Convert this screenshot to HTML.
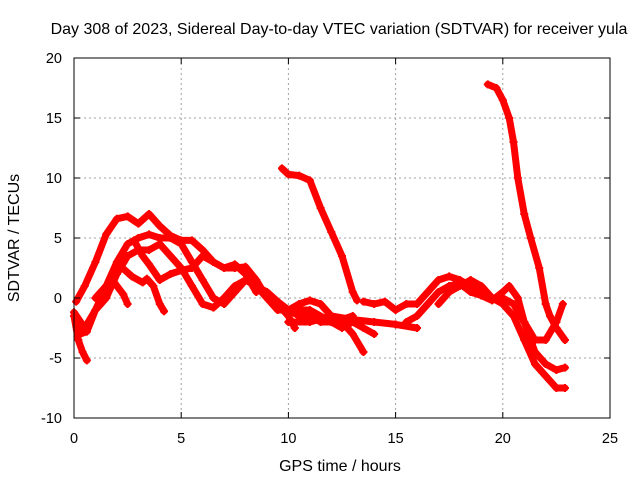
<!DOCTYPE html>
<html><head><meta charset="utf-8"><style>
body{margin:0;background:#fff;}
svg{display:block;font-family:"Liberation Sans",sans-serif;}
</style></head><body>
<svg id="chart" width="640" height="480" viewBox="0 0 640 480">
<rect width="640" height="480" fill="#fff"/>
<text x="339" y="34" font-size="16" text-anchor="middle">Day 308 of 2023, Sidereal Day-to-day VTEC variation (SDTVAR) for receiver yula</text>
<g id="grid"></g>
<g id="series"></g>
<rect x="74" y="58" width="536" height="360" fill="none" stroke="#000" stroke-width="1"/>
<g id="ticks"></g>
<text x="340" y="471" font-size="16" text-anchor="middle">GPS time / hours</text>
<text transform="translate(19,238) rotate(-90)" font-size="16" text-anchor="middle">SDTVAR / TECUs</text>
</svg>
<script>
const xTicks=[0,5,10,15,20,25];
const yTicks=[-10,-5,0,5,10,15,20];
const t1=[[0.1,-0.3],[0.5,1],[1,3],[1.5,5.3],[2,6.6],[2.5,6.8],[3,6.2],[3.5,7],[4,6],[4.5,5.2],[5,4.8],[5.5,4.8],[6,4],[6.5,3],[7,2.5],[7.5,2.5],[8,2.6],[8.5,1.5],[9,0],[9.5,-0.5],[10,-1.5],[10.3,-2.5]];
const t2=[[0,-1.2],[0.5,-2.5],[1,-1],[1.5,1],[2,3],[2.5,4.5],[3,5],[3.5,5.3],[4,5],[4.5,5],[5,4.5],[5.5,3],[6,1.5],[6.5,0],[7,-0.5],[7.5,0.5],[8,1.5],[8.5,1],[9,0.5],[9.5,-0.3],[10,-1],[10.5,-1.5],[11,-1.5],[11.5,-2],[12,-2],[12.5,-1.8],[13,-1.5]];
const t3=[[0,-1.5],[0.3,-3],[0.6,-2.8],[1,-1],[1.5,0],[2,2],[2.5,3.5],[3,4],[3.5,4],[4,4.5],[4.5,3.5],[5,2.5],[5.5,1],[6,-0.5],[6.5,-0.8],[7,0],[7.5,1],[8,1.5],[8.5,1],[9,0],[9.5,-1],[10,-1],[11,-1],[12,-2],[12.5,-2.5],[13,-2],[13.5,-2.5],[14,-3]];
const t4=[[0,-1.5],[0.2,-3.5],[0.4,-4.5],[0.6,-5.2]];
const t5=[[1,0],[1.5,1],[1.8,1.5],[2,1],[2.3,0.3],[2.5,-0.5]];
const t6=[[2.2,2.6],[2.7,1.8],[3.2,1.3],[3.4,1.6],[3.7,1],[4,-0.5],[4.2,-1.1]];
const t7=[[2.8,4.8],[3.2,3.5],[3.5,2.8],[4,1.5],[4.5,2],[5,2.3],[5.5,2.5],[6,3.5],[6.5,3],[7,2.5],[7.5,2.8],[8,2],[8.5,0.5]];
const t8=[[9.5,-0.5],[10,-1],[10.5,-0.5],[11,-0.2],[11.5,-0.5],[12,-1.5],[12.5,-2],[13,-3],[13.5,-4.5]];
const t9=[[9.7,10.8],[10,10.3],[10.5,10.2],[11,9.8],[11.5,7.5],[12,5.5],[12.5,3.5],[13,0.5],[13.2,-0.2]];
const t10=[[10,-2],[11,-2],[12,-1.5],[13,-1.8],[14,-2],[15,-2.2],[16,-2.5]];
const t11=[[13.5,-0.3],[14,-0.5],[14.5,-0.3],[15,-1],[15.5,-0.5],[16,-0.5],[16.5,0.5],[17,1.5],[17.5,1.8],[18,1.5],[18.5,1],[19,0.5],[19.5,0],[20,0],[20.5,-0.5],[21,-2],[21.5,-4.5],[22,-5.5],[22.5,-6],[22.9,-5.8]];
const t12=[[15.5,-2],[16,-1.5],[16.5,-0.5],[17,0.5],[17.5,1],[18,1.2],[18.5,0.5],[19,0.2],[19.5,-0.2],[20,0.5],[20.3,1],[20.7,0],[21,-2],[21.5,-3.5],[22,-3.5],[22.5,-2],[22.8,-0.5]];
const t13=[[17,-0.5],[17.5,0.5],[18,1],[18.5,1.5],[19,1],[19.5,0],[20,-0.5],[20.5,-1.5],[21,-3.5],[21.5,-5.5],[22,-6.5],[22.5,-7.5],[22.9,-7.5]];
const t14=[[19.3,17.8],[19.7,17.5],[20,16.5],[20.3,15],[20.5,13],[20.7,10],[21,7],[21.3,5],[21.7,2.5],[22,-0.5],[22.2,-1.5],[22.5,-2.5],[22.9,-3.5]];
const tracks=[t1,t2,t3,t4,t5,t6,t7,t8,t9,t10,t11,t12,t13,t14];
const X0=74,X1=610,Y0=418,Y1=58;
function xs(t){return X0+(t-0)/(25-0)*(X1-X0);}
function ys(v){return Y0-(v+10)/(20+10)*(Y0-Y1);}
const NS="http://www.w3.org/2000/svg";
const grid=document.getElementById('grid'),ticks=document.getElementById('ticks'),ser=document.getElementById('series');
function mk(tag,attrs,parent){const e=document.createElementNS(NS,tag);for(const k in attrs)e.setAttribute(k,attrs[k]);parent.appendChild(e);return e;}
xTicks.forEach(t=>{const x=xs(t);
 if(t>0&&t<25){const g=mk('line',{x1:x,x2:x,y1:Y1,y2:Y0,stroke:'#a0a0a0','stroke-dasharray':'2,3'},grid);
 
 }
 const l=mk('text',{x:x,y:443,'font-size':14.5,'text-anchor':'middle'},ticks);l.textContent=t;
 
 
 mk('line',{x1:x,x2:x,y1:Y0,y2:Y0-6,stroke:'#000'},ticks);mk('line',{x1:x,x2:x,y1:Y1,y2:Y1+6,stroke:'#000'},ticks);
});
yTicks.forEach(v=>{const y=ys(v);
 if(v>-10&&v<20){const g=mk('line',{x1:X0,x2:X1,y1:y,y2:y,stroke:'#a0a0a0','stroke-dasharray':'2,3'},grid);
 
 }
 const l=mk('text',{x:62,y:y+5,'font-size':14.5,'text-anchor':'end'},ticks);l.textContent=v;
 
 
 mk('line',{x1:X0,x2:X0+6,y1:y,y2:y,stroke:'#000'},ticks);mk('line',{x1:X1,x2:X1-6,y1:y,y2:y,stroke:'#000'},ticks);
});
tracks.forEach((tr,i)=>{
 const p=mk('polyline',{points:tr.map(d=>xs(d[0])+','+ys(d[1])).join(' '),fill:'none',stroke:'#ff0000','stroke-width':7,'stroke-linejoin':'round','stroke-linecap':'round'},ser);
 
 
 tr.forEach(d=>{const x=xs(d[0]),y=ys(d[1]);
  const m=mk('path',{d:`M${x-4},${y}H${x+4}M${x},${y-4}V${y+4}`,stroke:'#ff0000','stroke-width':2},ser);
  
  
 });
});
</script>
</body></html>
